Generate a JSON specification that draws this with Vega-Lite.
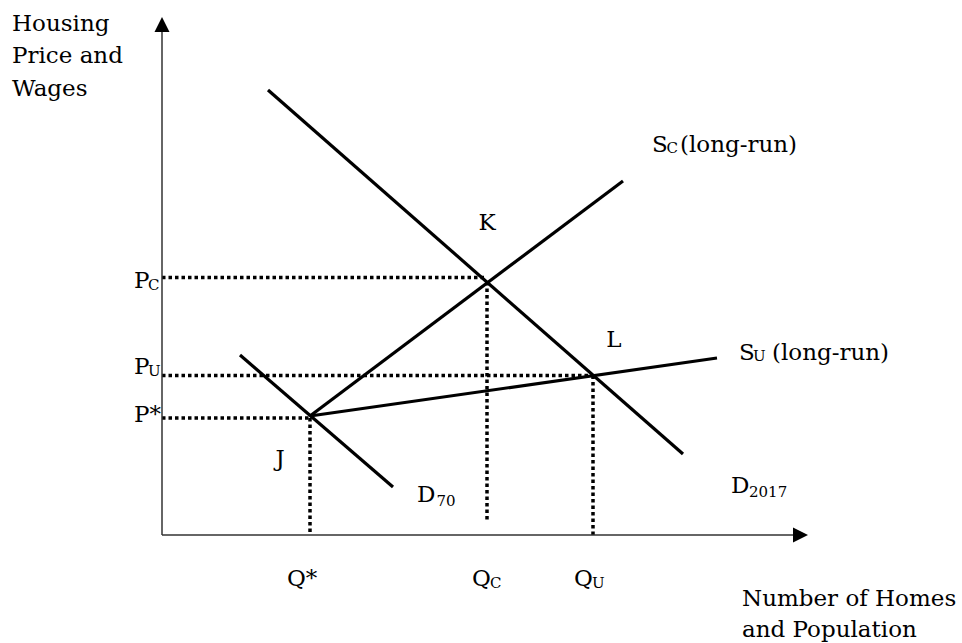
{
  "$schema": "https://vega.github.io/schema/vega-lite/v6.json",
  "width": 962,
  "height": 643,
  "padding": 0,
  "autosize": {"type": "fit", "contains": "padding"},
  "background": "white",
  "config": {"view": {"stroke": null}},
  "datasets": {
    "segments": [
      {"name": "D2017", "q1": 21.2, "p1": 89, "q2": 104.2, "p2": 16.2},
      {"name": "D70", "q1": 15.6, "p1": 36, "q2": 46.2, "p2": 9.6},
      {"name": "SC", "q1": 29.6, "p1": 23.8, "q2": 92.2, "p2": 70.8},
      {"name": "SU", "q1": 29.6, "p1": 23.8, "q2": 111, "p2": 35.4}
    ],
    "axes": [
      {"name": "price axis", "q1": 0, "p1": 0, "q2": 0, "p2": 100.6},
      {"name": "quantity axis", "q1": 0, "p1": 0, "q2": 126.2, "p2": 0}
    ],
    "arrows": [
      {"axis": "price", "q": 0, "p": 102.1, "dir": "up"},
      {"axis": "quantity", "q": 127.7, "p": 0, "dir": "right"}
    ],
    "guides": [
      {"name": "PC", "q1": 0, "p1": 51.5, "q2": 65, "p2": 51.5},
      {"name": "PU", "q1": 0, "p1": 31.9, "q2": 86.2, "p2": 31.9},
      {"name": "Pstar", "q1": 0, "p1": 23.4, "q2": 29.6, "p2": 23.4},
      {"name": "Qstar", "q1": 29.6, "p1": 23.4, "q2": 29.6, "p2": 0},
      {"name": "QC", "q1": 65, "p1": 50.6, "q2": 65, "p2": 2.8},
      {"name": "QU", "q1": 86.2, "p1": 31.9, "q2": 86.2, "p2": 0}
    ],
    "mainLeft": [
      {"text": "Housing", "q": -30, "p": 100.8},
      {"text": "Price and", "q": -30, "p": 94.4},
      {"text": "Wages", "q": -30, "p": 87.8},
      {"text": "P", "q": -5.6, "p": 49.4},
      {"text": "P", "q": -5.6, "p": 32.2},
      {"text": "P*", "q": -5.6, "p": 22.6},
      {"text": "S", "q": 98, "p": 76.6},
      {"text": "(long-run)", "q": 103.6, "p": 76.6},
      {"text": "S", "q": 115.4, "p": 35},
      {"text": "(long-run)", "q": 122, "p": 35},
      {"text": "D", "q": 51, "p": 6.6},
      {"text": "D", "q": 113.8, "p": 8.4},
      {"text": "Q*", "q": 25, "p": -10.2},
      {"text": "Q", "q": 62, "p": -10.2},
      {"text": "Q", "q": 82.4, "p": -10.2},
      {"text": "Number of Homes", "q": 116, "p": -14.2},
      {"text": "and Population", "q": 116, "p": -20.4}
    ],
    "mainCenter": [
      {"text": "K", "q": 65, "p": 61},
      {"text": "L", "q": 90.4, "p": 37.6},
      {"text": "J", "q": 23.6, "p": 13.8}
    ],
    "subs": [
      {"text": "C", "q": -2.8, "p": 49},
      {"text": "U", "q": -2.8, "p": 31.8},
      {"text": "C", "q": 100.9, "p": 76.4},
      {"text": "U", "q": 118.2, "p": 34.8},
      {"text": "70", "q": 54.9, "p": 5.8},
      {"text": "2017", "q": 117.4, "p": 7.6},
      {"text": "C", "q": 65.6, "p": -10.6},
      {"text": "U", "q": 86, "p": -10.6}
    ]
  },
  "layer": [
    {
      "data": {"name": "guides"},
      "mark": {"type": "rule", "color": "black", "strokeWidth": 3.5, "strokeDash": [3.5, 3], "strokeCap": "butt"},
      "encoding": {
        "x": {"field": "q1", "type": "quantitative", "scale": {"domain": [-32.4, 160], "nice": false, "zero": false}, "axis": null},
        "y": {"field": "p1", "type": "quantitative", "scale": {"domain": [-21.6, 107], "nice": false, "zero": false}, "axis": null},
        "x2": {"field": "q2"},
        "y2": {"field": "p2"}
      }
    },
    {
      "data": {"name": "axes"},
      "mark": {"type": "rule", "color": "#333333", "strokeWidth": 1.5},
      "encoding": {
        "x": {"field": "q1", "type": "quantitative"},
        "y": {"field": "p1", "type": "quantitative"},
        "x2": {"field": "q2"},
        "y2": {"field": "p2"}
      }
    },
    {
      "data": {"name": "segments"},
      "mark": {"type": "rule", "color": "black", "strokeWidth": 3.2, "strokeCap": "butt"},
      "encoding": {
        "x": {"field": "q1", "type": "quantitative"},
        "y": {"field": "p1", "type": "quantitative"},
        "x2": {"field": "q2"},
        "y2": {"field": "p2"}
      }
    },
    {
      "data": {"name": "arrows"},
      "mark": {"type": "point", "filled": true, "color": "black", "opacity": 1, "strokeWidth": 0},
      "encoding": {
        "x": {"field": "q", "type": "quantitative"},
        "y": {"field": "p", "type": "quantitative"},
        "shape": {"field": "dir", "type": "nominal", "scale": {"domain": ["up", "right"], "range": ["M0,-1L1,1L-1,1Z", "M1,0L-1,-1L-1,1Z"]}, "legend": null},
        "size": {"value": 225}
      }
    },
    {
      "data": {"name": "mainLeft"},
      "mark": {"type": "text", "font": "DejaVu Serif", "fontSize": 23, "align": "left", "baseline": "alphabetic", "color": "black"},
      "encoding": {
        "x": {"field": "q", "type": "quantitative"},
        "y": {"field": "p", "type": "quantitative"},
        "text": {"field": "text"}
      }
    },
    {
      "data": {"name": "mainCenter"},
      "mark": {"type": "text", "font": "DejaVu Serif", "fontSize": 23, "align": "center", "baseline": "alphabetic", "color": "black"},
      "encoding": {
        "x": {"field": "q", "type": "quantitative"},
        "y": {"field": "p", "type": "quantitative"},
        "text": {"field": "text"}
      }
    },
    {
      "data": {"name": "subs"},
      "mark": {"type": "text", "font": "DejaVu Serif", "fontSize": 15, "align": "left", "baseline": "alphabetic", "color": "black"},
      "encoding": {
        "x": {"field": "q", "type": "quantitative"},
        "y": {"field": "p", "type": "quantitative"},
        "text": {"field": "text"}
      }
    }
  ]
}
